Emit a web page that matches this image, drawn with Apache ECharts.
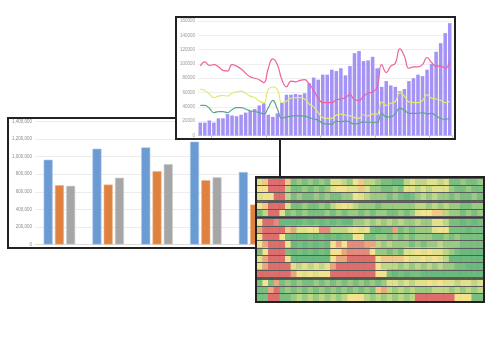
<!DOCTYPE html>
<html><head><meta charset="utf-8">
<script src="https://cdn.jsdelivr.net/npm/echarts@6/dist/echarts.min.js"></script>
<style>
html,body{margin:0;padding:0;background:#fff;width:500px;height:350px;overflow:hidden;}
.box{position:absolute;box-sizing:border-box;border:2px solid #222;background:#fff;overflow:hidden;}
.box > div{position:absolute;left:0;top:0;}
</style></head><body>
<div class="box" style="left:7px;top:117px;width:274px;height:132px;z-index:1"><div id="c1" style="width:270px;height:128px"></div></div>
<div class="box" style="left:175px;top:16px;width:281px;height:124px;z-index:2"><div id="c2" style="width:277px;height:120px"></div></div>
<div class="box" style="left:255px;top:176px;width:230px;height:127px;z-index:3;background:#3a3a3a"><div id="c3" style="width:226px;height:123px"></div></div>
<script>
// ---------- Chart 1: grouped bars ----------
const groupCats = ['G1', 'G2', 'G3', 'G4', 'G5'];
const blueVals = [965000, 1090000, 1105000, 1170000, 825000];
const orangeVals = [675000, 682000, 835000, 732000, 455000];
const grayVals = [668000, 760000, 915000, 765000, 520000];
const barTicks = [0, 200000, 400000, 600000, 800000, 1000000, 1200000, 1400000];

// ---------- Chart 2: bars + smooth lines ----------
const startYear = 2013, startMonth = 10, monthCount = 56;
const monthCats = [];
for (let i = 0; i < monthCount; i++) {
  const m = (startMonth - 1 + i) % 12 + 1;
  const y = startYear + Math.floor((startMonth - 1 + i) / 12);
  monthCats.push(y + '-' + (m < 10 ? '0' + m : m));
}
const purpleBars = [18000,18000,21000,18000,24000,24000,30000,28000,27000,29000,
  32000,34000,37000,42000,45000,29000,26000,31000,46000,57000,
  57000,58000,57000,59000,73000,81000,78000,85000,85000,92000,
  90000,94000,84000,97000,115000,118000,104000,105000,110000,94000,
  68000,76000,70000,68000,62000,65000,76000,80000,85000,83000,
  92000,100000,117000,129000,143000,157000];
const pinkLine = [97000,103000,98000,99000,96000,91000,90000,99000,97000,93000,
  87000,82000,80000,78000,74000,94000,107000,99000,78000,68000,
  76000,75000,77000,78000,72000,63000,52000,46000,46000,46000,
  50000,51000,53000,57000,50000,49000,55000,59000,61000,68000,
  99000,88000,97000,101000,121000,111000,94000,96000,96000,99000,
  109000,102000,97000,97000,94000,104000];
const yellowLine = [64500,63000,58000,53000,55000,56000,55000,59000,61000,62000,
  59000,55000,53000,48000,46000,64500,68000,64500,46000,48000,
  52000,53000,53000,51000,44000,40000,32000,25000,24000,24000,
  28500,30000,28500,27500,25000,24000,29000,27500,30000,30000,
  47000,42000,45000,47500,60000,55000,47000,46000,46000,49000,
  57000,52000,51000,49000,46000,48000];
const greenLine = [42000,42000,38000,32000,33500,33500,32000,36000,39000,39000,
  37000,34500,33500,32000,30000,39000,49000,37000,24000,26000,
  27000,27500,27500,27000,25000,23000,21500,17000,16000,16000,
  20000,19000,20500,18500,16000,17000,19000,18500,18500,18000,
  31000,26000,26000,31000,38000,35500,31000,31000,31000,32000,
  30000,31000,27500,24000,22500,24000];

// ---------- Chart 3: heatmap (levels 0 = green ... 9 = red) ----------
const heatGroups = [
  ['46 999 6 1212121 44 32 56 33 21100 34334 434 112112',
   '55 999 3 1121212 45544 64 221121 44343444 211211',
   '4 55 99 3 12112121122 54 322212 101 232322121121'],
  ['5 6 999 4 1121121 3454 32221222 222332323221122',
   '1 3 99 4 12121112121221212211212 45566 3221212'],
  ['5 99 8 0000101010100 22323232322322 443 110101',
   '7 9999 6 7 44 55 88 3334 545 1011 7 121222 455 111011',
   '5 999 5 100010101011 55 112212121222112121111',
   '5 7 999 5 0101010 5 7 5 888 77 3232221212232221111',
   '1 5 999 10101010 55 7 8888 5 22121 44545443 210000',
   '4 7 999 5 0000000 5 77 99999 5 6666 54454543 000000',
   '5 7 9999 4 343434 7 9999999 5 3332323232322 11000',
   '999999 7 545455 99999999 55 10101100000000000'],
  ['1 5 1 7 1212112121212121212 443434 45454434434',
   '11 7 9 12121212121212121 67 32323222333232323',
   '11 99 11 2323232323 555 323232323 9999999 555 11']
];
const levelColors = ['#6ab97e','#7bbf80','#9bca82','#bed786','#e0e28b','#f4e38d','#f1c887','#e9a67f','#e38b7c','#de6d6e'];

(function () {
const fam = 'Liberation Sans, Arial, sans-serif';

// Chart 1
const ch1 = echarts.init(document.getElementById('c1'), null, {renderer: 'canvas'});
ch1.setOption({
  animation: false,
  grid: {left: 19.7, top: 2, width: 255, bottom: 1.3},
  xAxis: {type: 'category', data: groupCats, axisLabel: {show: false}, axisTick: {show: false},
          axisLine: {lineStyle: {color: '#dcdcdc', width: 1}}},
  yAxis: {type: 'value', min: barTicks[0], max: barTicks[barTicks.length - 1], interval: barTicks[1] - barTicks[0],
          axisLabel: {fontSize: 4.5, color: '#8c8c8c', margin: 3, fontFamily: fam,
                      formatter: v => v.toLocaleString('en-US')},
          splitLine: {lineStyle: {color: '#ececec', width: 1}}},
  series: [
    {type: 'bar', data: blueVals, barWidth: 9, barGap: '25%', itemStyle: {color: '#6b9bd3', borderColor: '#a9c6ea', borderWidth: 0.6}},
    {type: 'bar', data: orangeVals, barWidth: 9, barGap: '25%', itemStyle: {color: '#e0823f', borderColor: '#f0b48a', borderWidth: 0.6}},
    {type: 'bar', data: grayVals, barWidth: 9, barGap: '25%', itemStyle: {color: '#a6a6a6', borderColor: '#cfcfcf', borderWidth: 0.6}}
  ]
});

// Chart 2
const ch2 = echarts.init(document.getElementById('c2'), null, {renderer: 'canvas'});
ch2.setOption({
  animation: false,
  grid: {left: 18.2, right: 2, top: 3, bottom: 2},
  xAxis: {type: 'category', data: monthCats, boundaryGap: true,
          axisLabel: {show: false},
          axisTick: {show: true, length: 2, lineStyle: {color: '#bbb'}, interval: (i, v) => v.endsWith('-01')},
          axisLine: {lineStyle: {color: '#ddd'}}},
  yAxis: {type: 'value', min: 0, max: 160000, interval: 20000,
          axisLabel: {fontSize: 4.5, color: '#9a9a9a', margin: 3, fontFamily: fam, formatter: v => String(v)},
          splitLine: {lineStyle: {color: '#efefef'}}},
  series: [
    {type: 'bar', data: purpleBars, barCategoryGap: '22%', itemStyle: {color: '#a492f4'}, z: 2},
    {type: 'line', data: pinkLine, smooth: true, showSymbol: false, lineStyle: {color: '#f0609c', width: 1.2}, z: 3},
    {type: 'line', data: yellowLine, smooth: true, showSymbol: false, lineStyle: {color: '#dfee6a', width: 1.2}, z: 3},
    {type: 'line', data: greenLine, smooth: true, showSymbol: false, lineStyle: {color: '#5aa88a', width: 1.2}, z: 3}
  ]
});

// Chart 3
const ch3 = echarts.init(document.getElementById('c3'), null, {renderer: 'canvas'});
const rowsPerGroup = heatGroups.map(g => g.length);
const totalRows = rowsPerGroup.reduce((a, b) => a + b, 0);
const gapPx = 2, totalH = 123;
const rowH = (totalH - gapPx * (heatGroups.length - 1)) / totalRows;
const grids = [], xAxes = [], yAxes = [], hseries = [];
let curTop = 0;
heatGroups.forEach((g, gi) => {
  const rows = g.map(s => s.replace(/\s+/g, ''));
  const ncol = rows[0].length;
  const h = rowH * rows.length;
  grids.push({left: 0, right: 0, top: curTop, height: h});
  curTop += h + gapPx;
  const cols = [];
  for (let c = 0; c < ncol; c++) cols.push('c' + c);
  xAxes.push({type: 'category', gridIndex: gi, data: cols, show: false});
  yAxes.push({type: 'category', gridIndex: gi, data: rows.map((r, ri) => 'r' + gi + '_' + ri), inverse: true, z: 5,
              axisLine: {show: false}, axisTick: {show: false}, axisLabel: {show: false},
              splitLine: {show: true, interval: 0, lineStyle: {color: '#5a5a5a', width: 1}}});
  const data = [];
  rows.forEach((r, ri) => { for (let c = 0; c < r.length; c++) data.push([c, ri, +r[c]]); });
  hseries.push({type: 'heatmap', xAxisIndex: gi, yAxisIndex: gi, data: data, emphasis: {disabled: true}, itemStyle: {borderWidth: 0}});
});
ch3.setOption({
  animation: false,
  grid: grids, xAxis: xAxes, yAxis: yAxes,
  visualMap: {type: 'piecewise', show: false, dimension: 2, seriesIndex: hseries.map((s, i) => i),
              pieces: levelColors.map((c, i) => ({value: i, color: c}))},
  series: hseries
});
})();
</script>
</body></html>
